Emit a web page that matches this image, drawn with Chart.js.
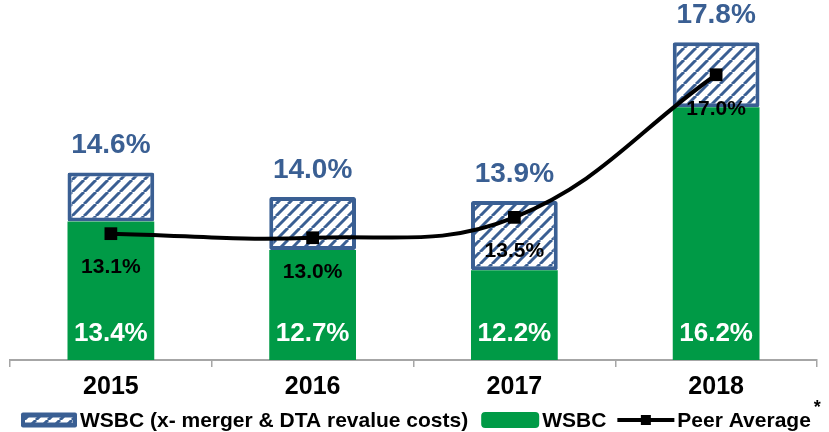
<!DOCTYPE html>
<html>
<head>
<meta charset="utf-8">
<script src="https://cdn.jsdelivr.net/npm/chart.js@4.4.0/dist/chart.umd.min.js"></script>
<style>
  html, body { margin: 0; padding: 0; background: #fff; }
</style>
</head>
<body>
<canvas id="chart" width="829" height="432"></canvas>
<script>
const years = ['2015', '2016', '2017', '2018'];
const wsbc = [13.4, 12.7, 12.2, 16.2];
const wsbcAdjusted = [14.6, 14.0, 13.9, 17.8];
const peerAverage = [13.1, 13.0, 13.5, 17.0];
const legendLabels = ['WSBC (x- merger & DTA revalue costs)', 'WSBC', 'Peer Average'];

const GREEN = '#009A46';
const BLUE = '#3A5F93';
const FONT = '"Liberation Sans", Arial, sans-serif';

// the hatched piece sits on top of the green bar, so stack the difference
const hatchPart = wsbcAdjusted.map((v, i) => +(v - wsbc[i]).toFixed(1));

const canvas = document.getElementById('chart');
const ctx = canvas.getContext('2d');

function makeHatch(size, lw) {
    const tile = document.createElement('canvas');
    tile.width = tile.height = size;
    const t = tile.getContext('2d');
    t.fillStyle = '#fff';
    t.fillRect(0, 0, size, size);
    t.strokeStyle = BLUE;
    t.lineWidth = lw;
    for (const k of [-size, 0, size]) {
        t.beginPath();
        t.moveTo(k, size);
        t.lineTo(k + size, 0);
        t.stroke();
    }
    return ctx.createPattern(tile, 'repeat');
}
const hatch = makeHatch(12, 3);

// Data labels drawn straight from the element positions
const valueLabels = {
    id: 'valueLabels',
    afterDatasetsDraw(chart) {
        const c = chart.ctx;
        const area = chart.chartArea;
        c.save();
        c.textAlign = 'center';
        c.textBaseline = 'middle';

        c.font = `bold 26px ${FONT}`;
        c.fillStyle = '#fff';
        chart.getDatasetMeta(0).data.forEach((bar, i) => {
            c.fillText(wsbc[i].toFixed(1) + '%', bar.x, area.bottom - 26);
        });

        c.font = `bold 28px ${FONT}`;
        c.fillStyle = BLUE;
        chart.getDatasetMeta(1).data.forEach((bar, i) => {
            c.fillText(wsbcAdjusted[i].toFixed(1) + '%', bar.x, bar.y - 27);
        });

        c.font = `bold 21px ${FONT}`;
        c.fillStyle = '#000';
        chart.getDatasetMeta(2).data.forEach((pt, i) => {
            c.fillText(peerAverage[i].toFixed(1) + '%', pt.x, pt.y + 34);
        });
        c.restore();
    }
};

// Legend row at the bottom (swatches hug their labels like the original)
const legendRow = {
    id: 'legendRow',
    afterDraw(chart) {
        const c = chart.ctx;
        const y = 420;
        let x = 21;
        c.save();
        c.font = `bold 21px ${FONT}`;
        c.textBaseline = 'middle';
        c.textAlign = 'left';

        // hatched swatch
        c.fillStyle = BLUE;
        c.beginPath();
        c.roundRect(x, y - 7.5, 56, 15, 2);
        c.fill();
        c.fillStyle = hatch;
        c.fillRect(x + 4, y - 2.5, 48, 5);
        x += 59;
        c.fillStyle = '#000';
        c.fillText(legendLabels[0], x, y + 1);
        x += c.measureText(legendLabels[0]).width + 13;

        // green swatch
        c.fillStyle = GREEN;
        c.beginPath();
        c.roundRect(x, y - 8, 58, 16, 4);
        c.fill();
        x += 61;
        c.fillStyle = '#000';
        c.fillText(legendLabels[1], x, y + 1);
        x += c.measureText(legendLabels[1]).width + 11;

        // line + marker swatch
        c.strokeStyle = '#000';
        c.lineWidth = 4;
        c.beginPath();
        c.moveTo(x, y);
        c.lineTo(x + 57, y);
        c.stroke();
        c.fillRect(x + 23.5, y - 5, 10, 10);
        x += 60;
        c.fillText(legendLabels[2], x, y + 1);
        x += c.measureText(legendLabels[2]).width + 3;

        c.font = `bold 18px ${FONT}`;
        c.fillText('*', x, y - 12);
        c.restore();
    }
};

new Chart(ctx, {
    type: 'bar',
    data: {
        labels: years,
        datasets: [
            {
                label: legendLabels[1],
                data: wsbc,
                backgroundColor: GREEN,
                borderWidth: 0,
                stack: 'wsbc',
                order: 1
            },
            {
                label: legendLabels[0],
                data: hatchPart,
                backgroundColor: hatch,
                borderColor: BLUE,
                borderWidth: 4,
                borderSkipped: false,
                borderRadius: 2,
                stack: 'wsbc',
                order: 1
            },
            {
                type: 'line',
                label: legendLabels[2],
                data: peerAverage,
                borderColor: '#000',
                borderWidth: 4,
                tension: 0.4,
                pointStyle: 'rect',
                pointRadius: 9,
                pointBackgroundColor: '#000',
                pointBorderWidth: 0,
                order: 0
            }
        ]
    },
    options: {
        responsive: false,
        animation: false,
        devicePixelRatio: 1,
        barPercentage: 0.43,
        categoryPercentage: 1.0,
        layout: { padding: { top: 34, bottom: 25, left: 10, right: 12 } },
        plugins: {
            legend: { display: false },
            tooltip: { enabled: false }
        },
        scales: {
            x: {
                stacked: true,
                grid: {
                    display: true,
                    drawOnChartArea: false,
                    offset: true,
                    tickLength: 7,
                    color: '#A6A6A6',
                    lineWidth: 1.5
                },
                border: { display: true, color: '#A6A6A6', width: 2 },
                ticks: {
                    color: '#000',
                    padding: 5,
                    font: { family: FONT, size: 25, weight: 'bold' }
                }
            },
            y: {
                stacked: true,
                display: false,
                min: 10,
                max: 18
            }
        }
    },
    plugins: [valueLabels, legendRow]
});
</script>
</body>
</html>
